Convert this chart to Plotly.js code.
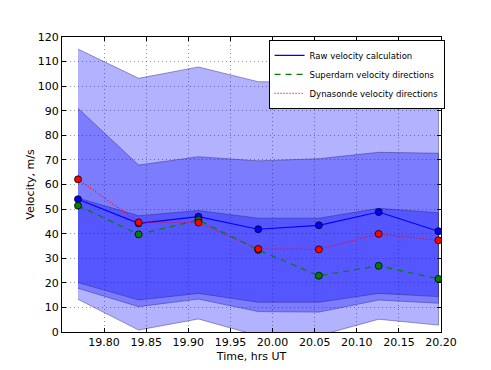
<!DOCTYPE html>
<html>
<head>
<meta charset="utf-8">
<script src="https://cdn.plot.ly/plotly-3.0.1.min.js"></script>
<style>
  html, body { margin: 0; padding: 0; background: #fff; }
  #chart { width: 491px; height: 370px; }
</style>
</head>
<body>
<div id="chart"></div>
<script>
// time points, hrs UT
const times = [19.769, 19.841, 19.912, 19.983, 20.055, 20.126, 20.197];

// velocity series, m/s
const rawVel = [54.0, 44.2, 46.9, 41.8, 43.4, 48.8, 41.0];
const superdarnVel = [51.4, 39.7, 45.6, 33.4, 22.9, 26.9, 21.6];
const dynasondeVel = [62.1, 44.6, 44.5, 33.8, 33.6, 39.9, 37.3];

// uncertainty bands (upper / lower edges)
const outerUpper = [115.1, 103.2, 107.8, 101.8, 101.6, 102.0, 101.9];
const outerLower = [13.3, 0.8, 5.3, -1.5, -1.5, 5.2, 2.8];
const middleUpper = [91.0, 67.9, 71.3, 69.6, 70.5, 73.1, 72.7];
const middleLower = [17.8, 10.3, 13.4, 8.3, 8.1, 13.0, 11.7];
const innerUpper = [54.5, 47.3, 49.4, 46.3, 46.3, 50.3, 48.5];
const innerLower = [20.1, 13.0, 15.7, 12.1, 12.1, 15.7, 14.4];

const xTicks = [19.80, 19.85, 19.90, 19.95, 20.00, 20.05, 20.10, 20.15, 20.20];
const yTicks = [0, 10, 20, 30, 40, 50, 60, 70, 80, 90, 100, 110, 120];

// polygon for a band: upper edge forward, lower edge back
function band(upper, lower){
    return {
        x: times.concat(times.slice().reverse()),
        y: upper.concat(lower.slice().reverse()),
        mode: "lines",
        fill: "toself",
        fillcolor: "rgba(0,0,255,0.3)",
        line: {color: "rgba(40,40,120,0.45)", width: 1},
        hoverinfo: "skip",
        showlegend: false
    };
}

function pts(yv, color){
    return {
        x: times, y: yv,
        mode: "markers",
        marker: {size: 7, color: color, line: {color: "#000", width: 0.8}},
        showlegend: false
    };
}

const traces = [
    band(outerUpper, outerLower),
    band(middleUpper, middleLower),
    band(innerUpper, innerLower),
    {x: times, y: rawVel, mode: "lines", name: "Raw velocity calculation",
     line: {color: "#0000ff", width: 1.2}},
    {x: times, y: superdarnVel, mode: "lines", name: "Superdarn velocity directions",
     line: {color: "#008000", width: 1.2, dash: "6px,5px"}},
    {x: times, y: dynasondeVel, mode: "lines", name: "Dynasonde velocity directions",
     line: {color: "#ff0000", width: 1.2, dash: "1px,2px"}},
    pts(rawVel, "#0000ff"),
    pts(superdarnVel, "#008000"),
    pts(dynasondeVel, "#ff0000")
];

const axisCommon = {
    showline: true, linecolor: "#000", linewidth: 1, mirror: "ticks",
    ticks: "inside", ticklen: 4, tickcolor: "#000",
    showgrid: true, gridcolor: "rgba(0,0,0,0.6)", gridwidth: 0.7, griddash: "1px,3px",
    zeroline: false,
    tickfont: {family: "DejaVu Sans", size: 11, color: "#000"}
};

const layout = {
    width: 491, height: 370,
    margin: {l: 62, r: 50, t: 37, b: 38},
    paper_bgcolor: "#fff", plot_bgcolor: "#fff",
    font: {family: "DejaVu Sans", size: 11, color: "#000"},
    xaxis: Object.assign({}, axisCommon, {
        range: [19.75, 20.20],
        tickvals: xTicks,
        ticktext: xTicks.map(v => v.toFixed(2)),
        title: {text: "Time, hrs UT", font: {size: 11}, standoff: 4}
    }),
    yaxis: Object.assign({}, axisCommon, {
        range: [0, 120],
        tickvals: yTicks,
        title: {text: "Velocity, m/s", font: {size: 11}, standoff: 0}
    }),
    legend: {
        x: 0.545, y: 0.99, xanchor: "left", yanchor: "top",
        bgcolor: "#fff", bordercolor: "#000", borderwidth: 1,
        font: {family: "DejaVu Sans", size: 8.5},
        tracegroupgap: 0, itemwidth: 30
    },
    showlegend: true
};

Plotly.newPlot("chart", traces, layout, {displayModeBar: false, staticPlot: true});
</script>
</body>
</html>
